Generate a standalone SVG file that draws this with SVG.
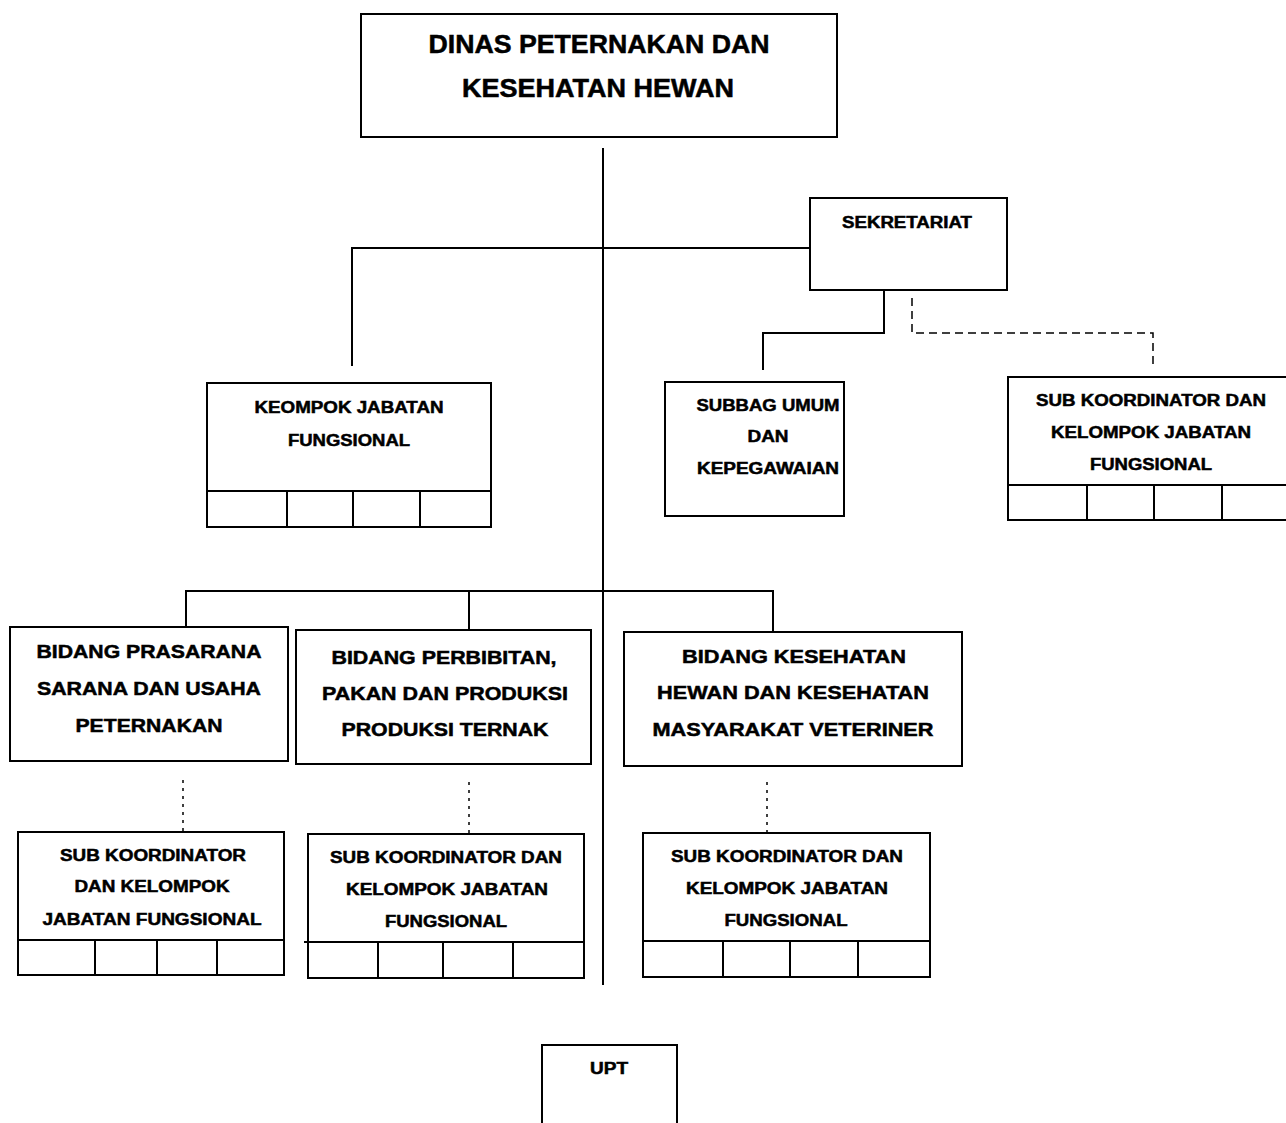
<svg xmlns="http://www.w3.org/2000/svg" width="1286" height="1123" viewBox="0 0 1286 1123">
<style>
.box{fill:#fff;stroke:#000;stroke-width:2}
.ln{fill:none;stroke:#000;stroke-width:2}
.dot{fill:none;stroke:#000;stroke-width:1.5;stroke-dasharray:3 5}
.dash{fill:none;stroke:#000;stroke-width:1.5;stroke-dasharray:8 5}
text{font-family:"Liberation Sans",Arial,sans-serif;font-weight:bold;text-anchor:middle;fill:#000;stroke:#000;stroke-width:0.5}
.t1{font-size:25px}
.t2{font-size:19px}
.t3{font-size:16px}
</style>
<rect width="1286" height="1123" fill="#fff"/>
<g id="connectors">
<line class="ln" x1="603" y1="148" x2="603" y2="985"/>
<polyline class="ln" points="352,366 352,248 810,248"/>
<polyline class="ln" points="884,290 884,333 763,333 763,370"/>
<polyline class="dash" points="912,298 912,333 1153,333 1153,367"/>
<polyline class="ln" points="186,627 186,591 773,591 773,632"/>
<line class="ln" x1="469" y1="591" x2="469" y2="630"/>
<line class="dot" x1="183" y1="780" x2="183" y2="832"/>
<line class="dot" x1="469" y1="782" x2="469" y2="834"/>
<line class="dot" x1="767" y1="782" x2="767" y2="833"/>
</g>
<g id="dinas">
<rect class="box" x="361" y="14" width="476" height="123"/>
<text class="t1" x="599" y="53" textLength="341" lengthAdjust="spacingAndGlyphs">DINAS PETERNAKAN DAN</text>
<text class="t1" x="598" y="97" textLength="272" lengthAdjust="spacingAndGlyphs">KESEHATAN HEWAN</text>
</g>
<g id="sekretariat">
<rect class="box" x="810" y="198" width="197" height="92"/>
<text class="t3" x="907" y="228" textLength="130" lengthAdjust="spacingAndGlyphs">SEKRETARIAT</text>
</g>
<g id="keompok">
<rect class="box" x="207" y="383" width="284" height="144"/>
<text class="t3" x="349" y="413" textLength="189" lengthAdjust="spacingAndGlyphs">KEOMPOK JABATAN</text>
<text class="t3" x="349" y="446" textLength="122" lengthAdjust="spacingAndGlyphs">FUNGSIONAL</text>
<path class="ln" d="M207,491H491M287,491V527M353,491V527M420,491V527"/>
</g>
<g id="subbag">
<rect class="box" x="665" y="382" width="179" height="134"/>
<text class="t3" x="768" y="411" textLength="143" lengthAdjust="spacingAndGlyphs">SUBBAG UMUM</text>
<text class="t3" x="768" y="442" textLength="41" lengthAdjust="spacingAndGlyphs">DAN</text>
<text class="t3" x="768" y="474" textLength="142" lengthAdjust="spacingAndGlyphs">KEPEGAWAIAN</text>
</g>
<g id="subkoor-sek">
<rect class="box" x="1008" y="377" width="290" height="143"/>
<text class="t3" x="1151" y="406" textLength="230" lengthAdjust="spacingAndGlyphs">SUB KOORDINATOR DAN</text>
<text class="t3" x="1151" y="438" textLength="200" lengthAdjust="spacingAndGlyphs">KELOMPOK JABATAN</text>
<text class="t3" x="1151" y="470" textLength="122" lengthAdjust="spacingAndGlyphs">FUNGSIONAL</text>
<path class="ln" d="M1008,485H1286M1087,485V520M1154,485V520M1222,485V520"/>
</g>
<g id="bidang-prasarana">
<rect class="box" x="10" y="627" width="278" height="134"/>
<text class="t2" x="149" y="658" textLength="225" lengthAdjust="spacingAndGlyphs">BIDANG PRASARANA</text>
<text class="t2" x="149" y="695" textLength="224" lengthAdjust="spacingAndGlyphs">SARANA DAN USAHA</text>
<text class="t2" x="149" y="732" textLength="147" lengthAdjust="spacingAndGlyphs">PETERNAKAN</text>
</g>
<g id="bidang-perbibitan">
<rect class="box" x="296" y="630" width="295" height="134"/>
<text class="t2" x="444" y="664" textLength="225" lengthAdjust="spacingAndGlyphs">BIDANG PERBIBITAN,</text>
<text class="t2" x="445" y="700" textLength="246" lengthAdjust="spacingAndGlyphs">PAKAN DAN PRODUKSI</text>
<text class="t2" x="445" y="736" textLength="207" lengthAdjust="spacingAndGlyphs">PRODUKSI TERNAK</text>
</g>
<g id="bidang-kesehatan">
<rect class="box" x="624" y="632" width="338" height="134"/>
<text class="t2" x="794" y="663" textLength="224" lengthAdjust="spacingAndGlyphs">BIDANG KESEHATAN</text>
<text class="t2" x="793" y="699" textLength="272" lengthAdjust="spacingAndGlyphs">HEWAN DAN KESEHATAN</text>
<text class="t2" x="793" y="736" textLength="281" lengthAdjust="spacingAndGlyphs">MASYARAKAT VETERINER</text>
</g>
<g id="subkoor-1">
<rect class="box" x="18" y="832" width="266" height="143"/>
<text class="t3" x="153" y="861" textLength="186" lengthAdjust="spacingAndGlyphs">SUB KOORDINATOR</text>
<text class="t3" x="152" y="892" textLength="155" lengthAdjust="spacingAndGlyphs">DAN KELOMPOK</text>
<text class="t3" x="152" y="925" textLength="219" lengthAdjust="spacingAndGlyphs">JABATAN FUNGSIONAL</text>
<path class="ln" d="M18,940H284M95,940V975M157,940V975M217,940V975"/>
</g>
<g id="subkoor-2">
<rect class="box" x="308" y="834" width="276" height="144"/>
<text class="t3" x="446" y="863" textLength="232" lengthAdjust="spacingAndGlyphs">SUB KOORDINATOR DAN</text>
<text class="t3" x="447" y="895" textLength="202" lengthAdjust="spacingAndGlyphs">KELOMPOK JABATAN</text>
<text class="t3" x="446" y="927" textLength="122" lengthAdjust="spacingAndGlyphs">FUNGSIONAL</text>
<path class="ln" d="M304,942H584M378,942V978M443,942V978M513,942V978"/>
</g>
<g id="subkoor-3">
<rect class="box" x="643" y="833" width="287" height="144"/>
<text class="t3" x="787" y="862" textLength="232" lengthAdjust="spacingAndGlyphs">SUB KOORDINATOR DAN</text>
<text class="t3" x="787" y="894" textLength="202" lengthAdjust="spacingAndGlyphs">KELOMPOK JABATAN</text>
<text class="t3" x="786" y="926" textLength="123" lengthAdjust="spacingAndGlyphs">FUNGSIONAL</text>
<path class="ln" d="M643,941H930M723,941V977M790,941V977M858,941V977"/>
</g>
<g id="upt">
<rect class="box" x="542" y="1045" width="135" height="90"/>
<text class="t3" x="609" y="1074" textLength="38" lengthAdjust="spacingAndGlyphs">UPT</text>
</g>
</svg>
